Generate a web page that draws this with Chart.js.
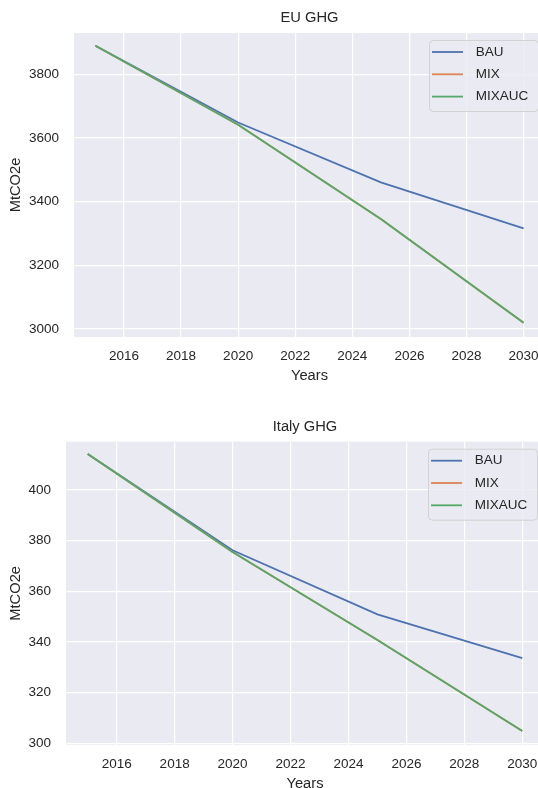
<!DOCTYPE html>
<html><head><meta charset="utf-8">
<script src="https://cdn.jsdelivr.net/npm/chart.js@4/dist/chart.umd.min.js"></script>
<style>
html,body{margin:0;padding:0;background:#fff;overflow:hidden;width:538px;height:788px;}
canvas{position:absolute;left:0;}
</style></head><body>
<canvas id="c1" width="546" height="394" style="top:0;width:546px;height:394px"></canvas>
<canvas id="c2" width="546" height="408" style="top:394px;width:546px;height:408px"></canvas>
<script>
// ---- data ----
const years = [2015, 2020, 2025, 2030];
const xTickYears = [2016, 2018, 2020, 2022, 2024, 2026, 2028, 2030];
const seriesNames = ['BAU', 'MIX', 'MIXAUC'];
const euBAU    = [3889, 3648, 3460, 3316];
const euMIX    = [3889, 3641, 3345, 3020];
const euMIXAUC = [3889, 3641, 3345, 3020];
const itBAU    = [414.2, 376.2, 350.9, 333.6];
const itMIX    = [414.2, 375.5, 340.8, 304.9];
const itMIXAUC = [414.2, 375.5, 340.8, 304.9];
const euYTicks = [3000, 3200, 3400, 3600, 3800];
const itYTicks = [300, 320, 340, 360, 380, 400];
const xLabel = 'Years';
const yLabel = 'MtCO2e';

// ---- style ----
const colors = ['#4C72B0', '#DD8452', '#55A868'];
const FONT = '"Liberation Sans", Arial, sans-serif';
const TXT = '#262626';

const bgPlugin = {
  id: 'bg',
  beforeDraw(chart) {
    const a = chart.chartArea, ctx = chart.ctx;
    ctx.save(); ctx.fillStyle = '#EAEAF2';
    ctx.fillRect(a.left, a.top, a.right - a.left, a.bottom - a.top);
    ctx.restore();
  }
};
const titleLegendPlugin = {
  id: 'titleLegend',
  afterDatasetsDraw(chart) {
    const a = chart.chartArea, ctx = chart.ctx;
    ctx.save();
    // title
    ctx.fillStyle = TXT;
    ctx.font = '14.7px ' + FONT;
    ctx.textAlign = 'center'; ctx.textBaseline = 'middle';
    ctx.fillText(chart.options.plugins.titleLegend.text, (a.left + a.right) / 2, a.top - 15);
    // legend
    const bx = a.right - 7 - 109, by = a.top + 7, bw = 109, bh = 71;
    ctx.beginPath();
    if (ctx.roundRect) ctx.roundRect(bx + 0.5, by + 0.5, bw, bh, 4); else ctx.rect(bx + 0.5, by + 0.5, bw, bh);
    ctx.fillStyle = 'rgba(234,234,242,0.8)'; ctx.fill();
    ctx.strokeStyle = 'rgba(204,204,204,0.8)'; ctx.lineWidth = 1; ctx.stroke();
    ctx.font = '13.5px ' + FONT; ctx.textAlign = 'left'; ctx.textBaseline = 'middle';
    chart.data.datasets.forEach((ds, i) => {
      const y = a.top + 19 + i * 22.3;
      ctx.strokeStyle = ds.borderColor; ctx.lineWidth = 1.8;
      ctx.beginPath(); ctx.moveTo(bx + 3, y); ctx.lineTo(bx + 34, y); ctx.stroke();
      ctx.fillStyle = TXT; ctx.fillText(ds.label, bx + 46.7, y);
    });
    ctx.restore();
  }
};

function makeChart(id, title, series, yTicks, ymin, ymax, area, canvasW, canvasH) {
  const datasets = series.map((vals, i) => ({
    label: seriesNames[i],
    data: years.map((y, j) => ({ x: y, y: vals[j] })),
    borderColor: colors[i], backgroundColor: colors[i],
    borderWidth: 1.8, pointRadius: 0, tension: 0, fill: false,
    order: series.length - 1 - i
  }));
  return new Chart(document.getElementById(id), {
    type: 'line',
    data: { datasets },
    plugins: [bgPlugin, titleLegendPlugin],
    options: {
      responsive: false, animation: false, devicePixelRatio: 1,
      layout: { padding: { top: area.top, left: 0, right: canvasW - area.right, bottom: 0 } },
      plugins: { legend: { display: false }, tooltip: { enabled: false }, title: { display: false },
                 titleLegend: { text: title } },
      scales: {
        x: {
          type: 'linear', min: 2014.25, max: 2030.75,
          afterBuildTicks: s => { s.ticks = xTickYears.map(v => ({ value: v })); },
          afterFit: s => { s.height = canvasH - area.bottom; s.paddingLeft = 0; s.paddingRight = 0; },
          ticks: { callback: v => String(v), color: TXT, font: { family: FONT, size: 13.5 }, padding: 11, maxRotation: 0, autoSkip: false },
          grid: { color: '#ffffff', lineWidth: 1.2, drawTicks: false },
          border: { display: false },
          title: { display: true, text: xLabel, color: TXT, font: { family: FONT, size: 14.7 }, padding: { top: 0, bottom: 9 } }
        },
        y: {
          type: 'linear', min: ymin, max: ymax,
          afterBuildTicks: s => { s.ticks = yTicks.map(v => ({ value: v })); },
          afterFit: s => { s.width = area.left; s.paddingTop = 0; s.paddingBottom = 0; },
          ticks: { callback: v => String(v), color: TXT, font: { family: FONT, size: 13.5 }, padding: 15, autoSkip: false },
          grid: { color: '#ffffff', lineWidth: 1.2, drawTicks: false },
          border: { display: false },
          title: { display: true, text: yLabel, color: TXT, font: { family: FONT, size: 14.7 }, padding: { top: 7, bottom: 0 } }
        }
      }
    }
  });
}

makeChart('c1', 'EU GHG', [euBAU, euMIX, euMIXAUC], euYTicks, 2975, 3929,
  { left: 74, right: 545, top: 33, bottom: 337 }, 546, 394);
makeChart('c2', 'Italy GHG', [itBAU, itMIX, itMIXAUC], itYTicks, 299.33, 419.07,
  { left: 66, right: 544, top: 47.7, bottom: 351 }, 546, 408);
</script>
</body></html>
